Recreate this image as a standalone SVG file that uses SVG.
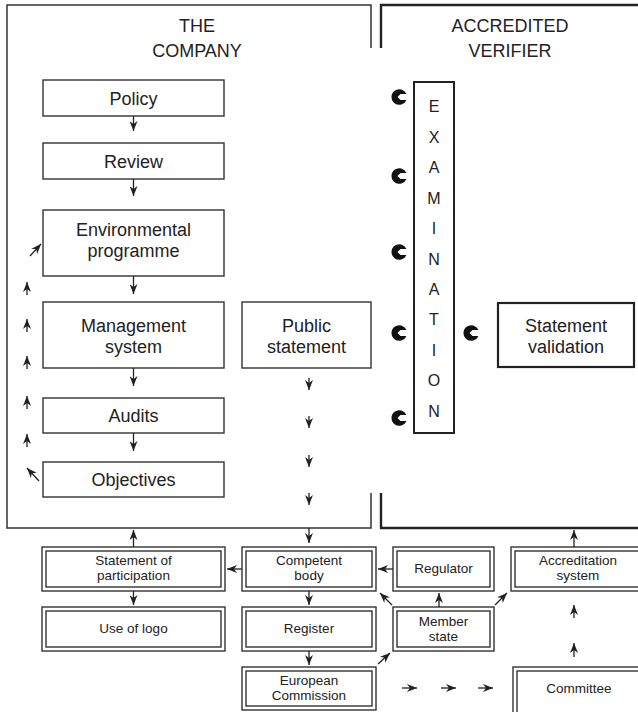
<svg xmlns="http://www.w3.org/2000/svg" width="638" height="712" viewBox="0 0 638 712">
<defs>
<marker id="ah" viewBox="0 0 10 8" refX="10" refY="4" markerWidth="10" markerHeight="8" markerUnits="userSpaceOnUse" orient="auto">
<path d="M0,0 L10,4 L0,8 L3,4 Z" fill="#222"/>
</marker>
<g id="cmark">
<path d="M7.5,-3 L1.5,-3 L-1.5,0 L1.5,3 L7.5,3 A7.8,7.8 0 1 1 7.5,-3 Z" fill="#111"/>
</g>
<style>
.t{font-family:"Liberation Sans",Arial,sans-serif;fill:#222;text-anchor:middle}
.big{font-size:18px}
.sm{font-size:13.5px}
.ex{font-size:16px}
.box{fill:#fff;stroke:#333;stroke-width:1.4}
.a{stroke:#222;stroke-width:1.3;fill:none;marker-end:url(#ah)}
</style>
</defs>
<rect width="638" height="712" fill="#fff"/>

<g id="frames">
<path d="M371,48 V5 H7 V528 H371 V493" fill="none" stroke="#333" stroke-width="1.5"/>
<path d="M381,48 V5 H640 M381,493 V528 H640" fill="none" stroke="#222" stroke-width="2.4"/>
<text class="t big" x="197" y="32">THE</text>
<text class="t big" x="197" y="57">COMPANY</text>
<text class="t big" x="510" y="32">ACCREDITED</text>
<text class="t big" x="510" y="57">VERIFIER</text>
</g>

<g id="policy"><rect class="box" x="43" y="80" width="181" height="36"/><text class="t big" x="133.5" y="105">Policy</text></g>
<g id="review"><rect class="box" x="43" y="143" width="181" height="36"/><text class="t big" x="133.5" y="168">Review</text></g>
<g id="envprog"><rect class="box" x="43" y="210" width="181" height="66"/><text class="t big" x="133.5" y="236">Environmental</text><text class="t big" x="133.5" y="257">programme</text></g>
<g id="mgmt"><rect class="box" x="43" y="302" width="181" height="66"/><text class="t big" x="133.5" y="332">Management</text><text class="t big" x="133.5" y="353">system</text></g>
<g id="audits"><rect class="box" x="43" y="398" width="181" height="35"/><text class="t big" x="133.5" y="422">Audits</text></g>
<g id="objectives"><rect class="box" x="43" y="462" width="181" height="35"/><text class="t big" x="133.5" y="486">Objectives</text></g>
<g id="public"><rect class="box" x="242" y="302" width="129" height="66"/><text class="t big" x="306.5" y="332">Public</text><text class="t big" x="306.5" y="353">statement</text></g>

<g id="examination">
<rect x="414" y="82" width="40" height="351" fill="#fff" stroke="#222" stroke-width="2"/>
<text class="t ex" x="434" y="112">E</text>
<text class="t ex" x="434" y="143">X</text>
<text class="t ex" x="434" y="173">A</text>
<text class="t ex" x="434" y="204">M</text>
<text class="t ex" x="434" y="234">I</text>
<text class="t ex" x="434" y="265">N</text>
<text class="t ex" x="434" y="295">A</text>
<text class="t ex" x="434" y="325">T</text>
<text class="t ex" x="434" y="356">I</text>
<text class="t ex" x="434" y="386">O</text>
<text class="t ex" x="434" y="417">N</text>
</g>

<g id="validation"><rect x="498" y="303" width="136" height="64" fill="#fff" stroke="#222" stroke-width="2.2"/><text class="t big" x="566" y="332">Statement</text><text class="t big" x="566" y="353">validation</text></g>

<g id="markers">
<use href="#cmark" x="399" y="97"/>
<use href="#cmark" x="399" y="176"/>
<use href="#cmark" x="399" y="252"/>
<use href="#cmark" x="399" y="333"/>
<use href="#cmark" x="399" y="418"/>
<use href="#cmark" x="471" y="333"/>
</g>

<g id="sop"><rect class="box" x="42" y="547" width="183" height="44"/><rect class="box" x="46" y="551" width="175" height="36"/><text class="t sm" x="133.5" y="565">Statement of</text><text class="t sm" x="133.5" y="580">participation</text></g>
<g id="logo"><rect class="box" x="42" y="607" width="183" height="44"/><rect class="box" x="46" y="611" width="175" height="36"/><text class="t sm" x="133.5" y="633">Use of logo</text></g>
<g id="competent"><rect class="box" x="242" y="547" width="134" height="44"/><rect class="box" x="246" y="551" width="126" height="36"/><text class="t sm" x="309" y="565">Competent</text><text class="t sm" x="309" y="580">body</text></g>
<g id="register"><rect class="box" x="242" y="607" width="134" height="44"/><rect class="box" x="246" y="611" width="126" height="36"/><text class="t sm" x="309" y="633">Register</text></g>
<g id="ec"><rect class="box" x="242" y="667" width="134" height="43"/><rect class="box" x="246" y="671" width="126" height="35"/><text class="t sm" x="309" y="685">European</text><text class="t sm" x="309" y="700">Commission</text></g>
<g id="regulator"><rect class="box" x="393" y="547" width="101" height="44"/><rect class="box" x="397" y="551" width="93" height="36"/><text class="t sm" x="443.5" y="573">Regulator</text></g>
<g id="member"><rect class="box" x="393" y="607" width="101" height="44"/><rect class="box" x="397" y="611" width="93" height="36"/><text class="t sm" x="443.5" y="626">Member</text><text class="t sm" x="443.5" y="641">state</text></g>
<g id="accreditation"><rect class="box" x="511" y="547" width="140" height="44"/><rect class="box" x="515" y="551" width="132" height="36"/><text class="t sm" x="578" y="565">Accreditation</text><text class="t sm" x="578" y="580">system</text></g>
<g id="committee"><rect class="box" x="513" y="667" width="140" height="50"/><rect class="box" x="517" y="671" width="132" height="42"/><text class="t sm" x="579" y="693">Committee</text></g>

<g id="connectors">
<line class="a" x1="133.5" y1="116" x2="133.5" y2="131"/>
<line class="a" x1="133.5" y1="179" x2="133.5" y2="196"/>
<line class="a" x1="133.5" y1="276" x2="133.5" y2="294"/>
<line class="a" x1="133.5" y1="368" x2="133.5" y2="386"/>
<line class="a" x1="133.5" y1="433" x2="133.5" y2="451"/>

<line class="a" x1="27" y1="295" x2="27" y2="282"/>
<line class="a" x1="27" y1="332" x2="27" y2="319"/>
<line class="a" x1="27" y1="369" x2="27" y2="356"/>
<line class="a" x1="27" y1="409" x2="27" y2="396"/>
<line class="a" x1="27" y1="447" x2="27" y2="434"/>
<line class="a" x1="30" y1="256" x2="41" y2="244"/>
<line class="a" x1="39" y1="481" x2="27" y2="468"/>

<line class="a" x1="309" y1="378" x2="309" y2="390"/>
<line class="a" x1="309" y1="416" x2="309" y2="428"/>
<line class="a" x1="309" y1="455" x2="309" y2="467"/>
<line class="a" x1="309" y1="493" x2="309" y2="505"/>

<line class="a" x1="133.5" y1="547" x2="133.5" y2="530"/>
<line class="a" x1="309" y1="528" x2="309" y2="543"/>
<line class="a" x1="242" y1="569" x2="227" y2="569"/>
<line class="a" x1="133.5" y1="591" x2="133.5" y2="605"/>
<line class="a" x1="309" y1="591" x2="309" y2="605"/>
<line class="a" x1="309" y1="651" x2="309" y2="665"/>
<line class="a" x1="393" y1="569" x2="378" y2="569"/>
<line class="a" x1="439" y1="607" x2="439" y2="593"/>
<line class="a" x1="392" y1="605" x2="380" y2="593"/>
<line class="a" x1="495" y1="605" x2="507" y2="593"/>
<line class="a" x1="378" y1="664" x2="390" y2="653"/>
<line class="a" x1="574" y1="547" x2="574" y2="530"/>
<line class="a" x1="574" y1="618" x2="574" y2="605"/>
<line class="a" x1="574" y1="657" x2="574" y2="643"/>
<line class="a" x1="402" y1="688" x2="417" y2="688"/>
<line class="a" x1="441" y1="688" x2="456" y2="688"/>
<line class="a" x1="478" y1="688" x2="493" y2="688"/>
</g>
</svg>
